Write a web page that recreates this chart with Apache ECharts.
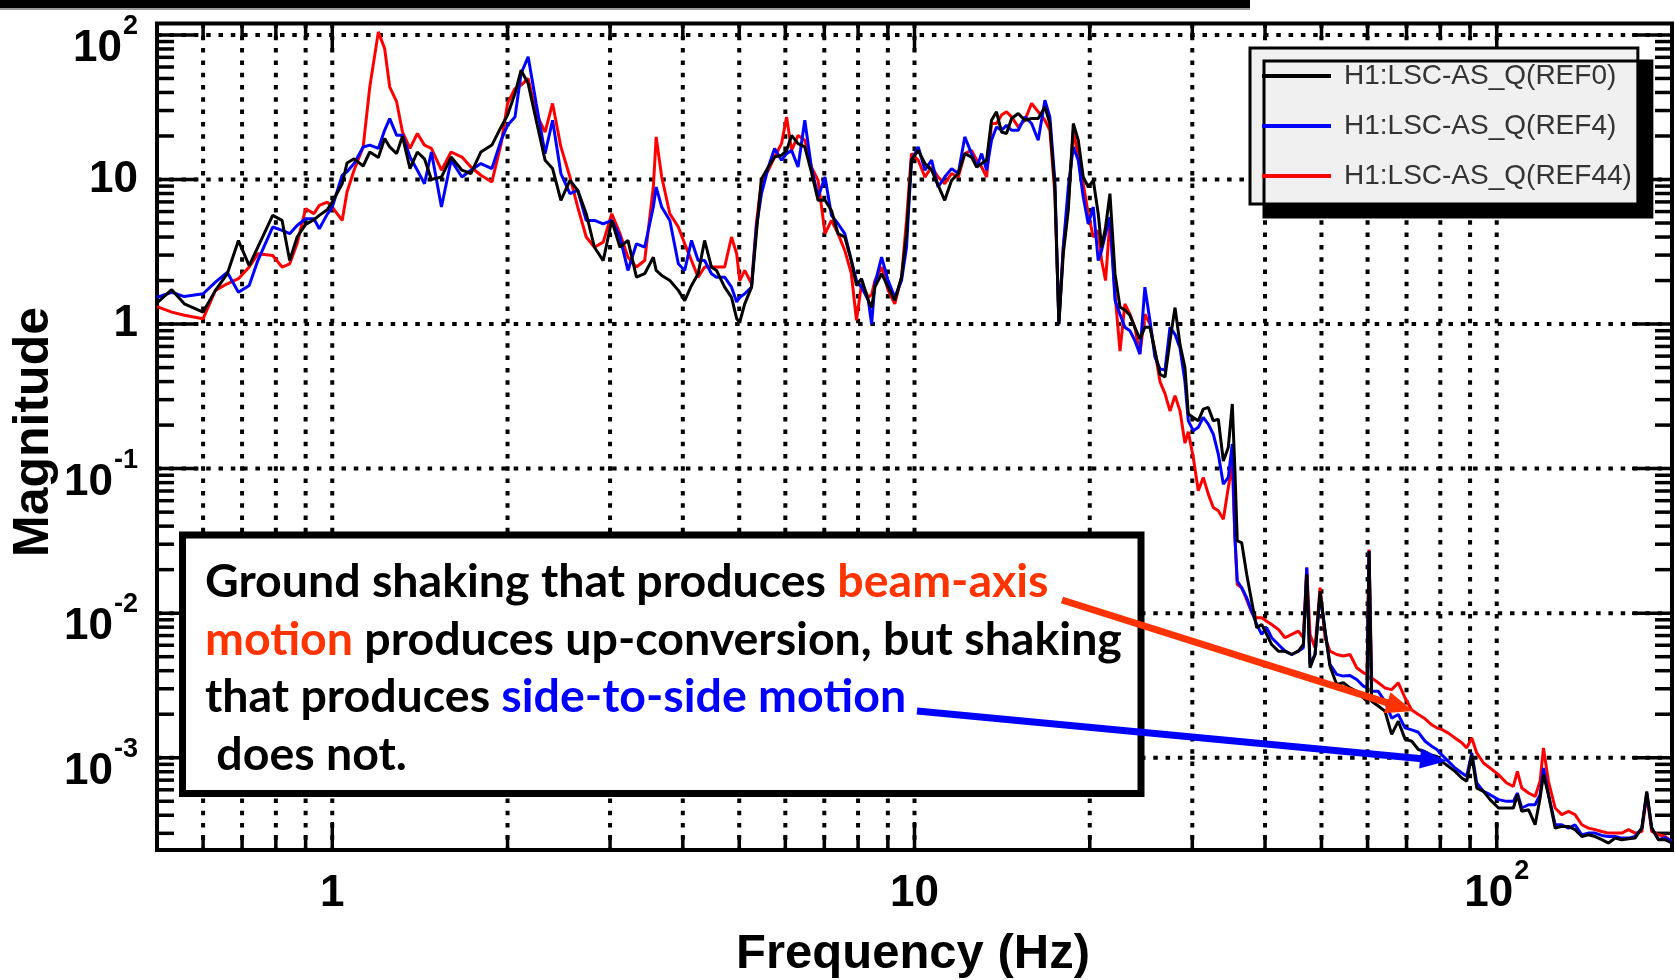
<!DOCTYPE html>
<html><head><meta charset="utf-8">
<script src="https://cdn.jsdelivr.net/npm/echarts@6/dist/echarts.min.js"></script>
<style>html,body{margin:0;padding:0;background:#fff}#c{width:1675px;height:980px}</style>
</head><body><div id="c"></div>
<script>
// ---------------- data ----------------
const freq = [
0.50,0.53,0.557,0.60,0.63,0.66,0.69,0.72,0.745,0.79,0.82,0.845,0.87,0.90,0.93,0.95,0.98,1.00,1.04,1.06,1.09,1.13,1.16,1.20,1.23,1.255,1.29,1.32,1.36,1.40,1.44,
1.48,1.54,1.60,1.67,1.73,1.80,1.88,1.95,2.00,2.06,2.11,2.17,2.24,2.32,2.39,2.47,2.56,2.64,2.73,2.82,2.92,3.02,3.12,3.22,3.33,3.44,3.56,3.60,3.68,3.80,3.93,4.03,4.14,4.25,4.36,4.48,
4.57,4.72,4.85,4.95,5.01,5.11,5.25,5.35,5.46,5.61,5.75,5.91,6.03,6.15,6.31,6.48,6.65,6.83,7.02,7.20,7.39,7.59,7.79,7.95,8.11,8.33,8.44,8.55,8.78,9.01,9.25,9.50,9.69,9.88,10.15,10.42,10.70,10.98,11.27,11.58,11.89,12.20,12.53,
12.79,13.04,13.30,13.56,13.83,14.11,14.39,14.68,15.07,15.47,15.89,16.31,16.75,17.08,17.42,17.70,18.01,18.37,18.74,19.11,19.49,19.88,20.28,20.68,20.96,21.29,21.66,22.10,22.54,22.98,23.44,23.90,24.38,24.87,25.37,25.88,26.40,26.93,27.47,28.02,28.58,29.14,
29.53,30.12,30.72,31.33,31.96,32.60,33.25,33.92,34.59,35.14,35.51,35.84,36.47,37.20,37.94,38.70,39.47,40.26,41.06,42.17,43.29,44.45,45.63,46.54,47.17,47.79,48.75,49.73,50.72,51.71,53.10,54.52,55.98,57.48,59.01,59.87,60.35,60.97,62.60,64.27,66.00,67.76,69.57,71.45,73.35,75.33,77.33,
78.9,80.4,82.6,84.8,87.1,88.8,90.6,92.4,94.9,97.4,100.7,104.0,106.8,108.5,110.4,113.4,116.4,118.7,120.3,122.7,126.0,129.3,132.8,136.3,140.0,143.7,147.6,151.5,155.6,159.7,164.0,168.4,172.8,177.5,181.0,184.6,189.6,194.6,199.8
];
const magREF0 = [
1.40,1.73,1.38,1.21,1.71,2.22,3.78,2.54,3.40,5.65,5.21,2.75,3.99,4.89,5.27,5.65,6.18,6.98,9.35,13.0,13.9,12.4,15.5,14.2,19.2,16.8,15.1,19.9,11.9,15.5,13.9,
10.0,10.4,14.3,11.6,11.0,15.5,17.3,23.1,27.9,39.3,57.0,46.1,25.7,13.6,11.9,7.18,9.87,8.41,5.80,3.40,2.75,5.21,3.40,3.79,2.11,2.23,2.90,2.35,2.17,2.00,1.71,1.45,1.85,2.23,3.79,2.48,
2.35,1.80,1.53,1.09,1.03,1.38,1.80,4.22,10.1,12.2,14.3,14.7,15.9,20.2,17.7,16.8,11.3,7.18,7.18,6.11,4.22,4.00,2.75,1.85,2.06,1.46,1.30,1.80,2.23,1.80,1.46,2.11,4.22,13.6,15.9,12.9,11.6,9.12,7.18,9.87,11.0,15.1,14.3,
12.2,12.9,13.6,25.7,29.4,21.3,20.8,26.4,28.6,25.7,26.4,26.4,31.8,24.4,8.87,1.00,3.06,6.11,24.4,18.7,10.4,8.87,9.87,5.80,3.40,4.69,7.98,2.23,1.31,1.25,1.15,0.95,0.79,0.95,0.95,0.65,0.45,0.43,0.77,1.30,0.72,0.50,
0.239,0.226,0.214,0.258,0.265,0.214,0.220,0.113,0.140,0.28,0.0966,0.0316,0.0308,0.0186,0.0121,0.00793,0.00836,0.00713,0.00607,0.00546,0.00546,0.00518,0.00546,0.00607,0.0186,0.00419,0.00518,0.0142,0.00752,0.0043,0.00321,0.0033,0.00304,0.00288,0.00259,0.00246,0.0269,0.00246,0.00228,0.00210,0.00145,0.00179,0.00135,0.0013,0.00114,0.0011,0.00104,
0.00102,0.000944,0.000872,0.000805,0.000724,0.000687,0.00105,0.000617,0.000585,0.000513,0.000449,0.000449,0.000449,0.000555,0.000426,0.000437,0.000344,0.000526,0.000764,0.000555,0.000326,0.000335,0.000335,0.000318,0.000285,0.000293,0.000285,0.000271,0.000257,0.000278,0.000271,0.000275,0.000278,0.000326,0.000585,0.000326,0.000271,0.000271,0.000257
];
const magREF4 = [
1.53,1.66,1.55,1.62,1.95,2.28,1.66,1.85,2.75,4.69,4.45,4.22,4.81,5.35,5.35,4.56,5.74,6.45,10.7,11.3,12.9,16.8,17.3,16.4,21.9,26.4,20.2,20.2,14.3,11.6,9.35,
15.5,6.45,13.6,10.4,11.6,12.9,11.9,18.7,23.7,27.1,54.1,70.6,33.6,15.1,25.7,11.0,7.98,8.41,5.21,5.21,4.94,5.21,4.00,2.35,3.59,3.40,6.45,8.87,6.45,5.21,2.61,2.35,3.79,2.75,2.75,2.23,
2.11,2.11,1.80,1.42,1.53,1.62,1.80,4.69,7.98,12.2,16.4,13.6,15.1,15.9,12.2,25.7,12.2,7.57,10.4,5.65,4.94,4.22,2.75,2.00,1.80,1.46,1.00,1.90,2.90,2.00,1.53,2.00,3.40,13.6,16.8,11.6,13.6,8.87,10.4,11.9,11.0,19.7,15.1,
12.2,15.1,11.6,18.7,23.1,21.9,23.7,21.9,21.9,27.1,24.4,18.7,35.4,27.1,9.87,1.00,3.40,8.87,16.8,13.6,7.57,4.94,6.45,2.75,3.23,4.22,5.50,1.46,1.17,0.95,0.90,0.77,0.62,1.80,1.06,0.59,0.49,0.48,0.95,0.85,0.68,0.40,
0.214,0.183,0.193,0.226,0.203,0.173,0.126,0.078,0.0869,0.148,0.0333,0.0167,0.0150,0.0128,0.0103,0.00836,0.00713,0.00793,0.00676,0.00607,0.00546,0.00518,0.00546,0.00576,0.0207,0.00442,0.00518,0.0135,0.00752,0.00442,0.00377,0.00367,0.0037,0.00348,0.00313,0.00304,0.0269,0.00288,0.00288,0.00246,0.00188,0.00199,0.00161,0.00156,0.0015,0.0013,0.0012,
0.00114,0.00105,0.000944,0.000849,0.000784,0.000744,0.00108,0.000669,0.000585,0.000555,0.000513,0.000499,0.000499,0.000570,0.000449,0.000473,0.000473,0.000555,0.000849,0.000555,0.000344,0.000344,0.000326,0.000344,0.000293,0.000301,0.000301,0.00029,0.000285,0.000285,0.000278,0.000278,0.000285,0.000326,0.000570,0.000326,0.000271,0.00028,0.000264
];
const magREF44 = [
1.32,1.21,1.15,1.09,1.71,1.90,2.06,2.48,3.06,2.98,2.48,2.61,3.59,6.28,5.81,6.62,6.98,6.45,5.21,8.19,11.6,16.8,43.8,105,80.7,43.8,34.4,21.3,16.4,20.8,17.3,
16.4,11.6,15.5,14.3,12.2,10.7,9.61,17.7,33.6,42.6,45.0,50.0,28.6,21.3,33.6,16.8,10.4,6.45,4.00,3.40,3.69,5.80,4.22,2.90,2.48,2.75,8.87,19.7,10.4,5.80,4.69,3.59,2.75,2.11,2.48,2.48,
2.48,2.48,4.00,3.06,2.00,2.35,1.90,4.94,9.87,11.6,14.3,17.7,27.1,15.9,20.2,18.7,12.2,9.87,4.22,5.21,4.22,3.23,2.23,1.06,1.90,1.53,1.60,2.00,2.48,1.71,1.38,2.11,5.21,15.1,13.6,10.4,12.2,10.4,9.35,11.0,10.4,15.1,15.9,
13.6,12.2,10.4,24.4,24.4,27.9,29.4,27.1,23.1,25.7,33.6,29.4,25.7,21.9,7.98,1.06,3.40,6.79,21.9,14.3,9.35,5.80,4.00,4.45,2.75,2.00,5.21,1.62,0.65,1.38,1.17,0.95,0.62,1.17,1.00,0.65,0.40,0.33,0.25,0.32,0.25,0.15,
0.18,0.119,0.0702,0.0869,0.0666,0.0538,0.0511,0.0447,0.074,0.107,0.0333,0.0158,0.0150,0.0124,0.0101,0.00929,0.00929,0.00881,0.00836,0.00772,0.00676,0.00713,0.00752,0.00676,0.0207,0.00713,0.00576,0.0150,0.00676,0.00546,0.00518,0.00505,0.00518,0.00419,0.00387,0.00377,0.0276,0.00357,0.0033,0.00304,0.00296,0.0033,0.0026,0.00214,0.00199,0.00186,0.00169,
0.00161,0.00157,0.00148,0.00137,0.00127,0.00117,0.00137,0.00108,0.00092,0.000849,0.000764,0.000669,0.000634,0.000805,0.000617,0.000570,0.00054,0.000687,0.00117,0.000687,0.000449,0.000404,0.000426,0.000404,0.000344,0.000326,0.000318,0.000309,0.000301,0.000301,0.000301,0.000318,0.000301,0.000309,0.000555,0.000309,0.000293,0.000285,0.000264
];
const seriesNames = ['H1:LSC-AS_Q(REF0)', 'H1:LSC-AS_Q(REF4)', 'H1:LSC-AS_Q(REF44)'];
const seriesColors = ['#000000', '#0000ff', '#ff0000'];

const xRange = [0.5, 200];
const yRange = [2.3e-4, 120];
const xTickValues = [1, 10, 100];
const xTickLabels = ['1', '10', '10^2'];
const yTickValues = [1e-3, 1e-2, 1e-1, 1, 10, 100];
const yTickLabels = ['10^-3', '10^-2', '10^-1', '1', '10', '10^2'];
const xMinorTicks = [0.6,0.7,0.8,0.9,2,3,4,5,6,7,8,9,20,30,40,50,60,70,80,90];
const yMinorTicks = [3e-4,4e-4,5e-4,6e-4,7e-4,8e-4,9e-4,
  2e-3,3e-3,4e-3,5e-3,6e-3,7e-3,8e-3,9e-3,
  0.02,0.03,0.04,0.05,0.06,0.07,0.08,0.09,
  0.2,0.3,0.4,0.5,0.6,0.7,0.8,0.9,
  2,3,4,5,6,7,8,9,
  20,30,40,50,60,70,80,90];

const xTitle = 'Frequency (Hz)';
const yTitle = 'Magnitude';
const noteLines = [
  [['k', 'Ground shaking that produces '], ['r', 'beam-axis']],
  [['r', 'motion'], ['k', ' produces up-conversion, but shaking']],
  [['k', 'that produces '], ['b', 'side-to-side motion']],
  [['k', ' does not.']]
];

// ---------------- helpers ----------------
const isSame = (a, b) => Math.abs(Math.log10(a) - Math.log10(b)) < 1e-6;
function toRich(lbl, padAll) {
  if (lbl.indexOf('^') >= 0) {
    const p = lbl.split('^');
    return '{bs|' + p[0] + '}{s|' + p[1] + '}';
  }
  return padAll ? '{bs|' + lbl + '}' : '{b|' + lbl + '}';
}
function makeFormatter(vals, labels, padAll) {
  return function (v) {
    v = Number(v);
    for (let i = 0; i < vals.length; i++) if (isSame(v, vals[i])) return toRich(labels[i], padAll);
    return '';
  };
}
const LABEL_FONT = 'Liberation Sans';
function richSet(fs, sfs, pad) {
  return {
    b: { fontSize: fs, lineHeight: fs, fontWeight: 'bold', fontFamily: LABEL_FONT, color: '#000' },
    bs: { fontSize: fs, lineHeight: fs, fontWeight: 'bold', fontFamily: LABEL_FONT, color: '#000', padding: [pad, 0, pad, 0], verticalAlign: 'top' },
    s: { fontSize: sfs, lineHeight: sfs, fontWeight: 'bold', fontFamily: LABEL_FONT, color: '#000', verticalAlign: 'top', padding: [0, 0, 0, 1] }
  };
}

// decoration items: [x, y, isMajor]
const vItems = xTickValues.map(v => [v, 1, 1]).concat(xMinorTicks.map(v => [v, 1, 0]));
const hItems = yTickValues.map(v => [1, v, 1]).concat(yMinorTicks.map(v => [1, v, 0]));
const DOT = { stroke: '#000', lineWidth: 4, lineDash: [4.5, 7.8] };
const TICK = { stroke: '#000', lineWidth: 3.5 };

function renderV(params, api) {
  const cs = params.coordSys;
  const x = api.coord([api.value(0), 1])[0];
  const L = api.value(2) === 1 ? 28 : 15;
  const top = cs.y, bot = cs.y + cs.height;
  return { type: 'group', children: [
    { type: 'line', shape: { x1: x, y1: top, x2: x, y2: bot }, style: DOT },
    { type: 'line', shape: { x1: x, y1: top, x2: x, y2: top + L }, style: TICK },
    { type: 'line', shape: { x1: x, y1: bot, x2: x, y2: bot - L }, style: TICK }
  ]};
}
function renderH(params, api) {
  const cs = params.coordSys;
  const y = api.coord([1, api.value(1)])[1];
  const major = api.value(2) === 1;
  const L = major ? 40 : 17;
  const l = cs.x, r = cs.x + cs.width;
  const ch = [
    { type: 'line', shape: { x1: l, y1: y, x2: l + L, y2: y }, style: TICK },
    { type: 'line', shape: { x1: r, y1: y, x2: r - L, y2: y }, style: TICK }
  ];
  if (major) ch.unshift({ type: 'line', shape: { x1: l, y1: y, x2: r, y2: y }, style: DOT });
  return { type: 'group', children: ch };
}

function arrow(x1, y1, x2, y2, color, w, hl, hw) {
  const dx = x2 - x1, dy = y2 - y1, len = Math.hypot(dx, dy);
  const ux = dx / len, uy = dy / len, nx = -uy, ny = ux;
  const bx = x2 - hl * ux, by = y2 - hl * uy;
  return [
    { type: 'line', z: 120, shape: { x1: x1, y1: y1, x2: bx + ux * 2, y2: by + uy * 2 }, style: { stroke: color, lineWidth: w } },
    { type: 'polygon', z: 121, shape: { points: [[x2, y2], [bx + nx * hw, by + ny * hw], [bx - nx * hw, by - ny * hw]] }, style: { fill: color } }
  ];
}

// ---------------- chart ----------------
const chart = echarts.init(document.getElementById('c'), null, { renderer: 'canvas' });
const NOTE_FS = 46.5;
const noteRich = {
  k: { fill: '#000', color: '#000', fontSize: NOTE_FS, fontWeight: 'bold', fontFamily: 'Lato' },
  r: { fill: '#ff3300', color: '#ff3300', fontSize: NOTE_FS, fontWeight: 'bold', fontFamily: 'Lato' },
  b: { fill: '#0000ff', color: '#0000ff', fontSize: NOTE_FS, fontWeight: 'bold', fontFamily: 'Lato' }
};
const noteY = [582, 640, 697, 755];
const noteEls = noteLines.map((ln, i) => ({
  type: 'text', x: 205, y: noteY[i], z: 110,
  style: {
    text: ln.map(t => '{' + t[0] + '|' + t[1] + '}').join(''),
    rich: noteRich, verticalAlign: 'middle', align: 'left',
    fontSize: NOTE_FS, fontWeight: 'bold', fontFamily: 'Lato', fill: '#000'
  }
}));

const lineSeries = [2, 1, 0].map(i => ({
  name: seriesNames[i], type: 'line', xAxisIndex: 0, yAxisIndex: 0,
  data: freq.map((f, k) => [f, [magREF0, magREF4, magREF44][i][k]]),
  showSymbol: false, symbol: 'none', z: 10 + (2 - i),
  lineStyle: { color: seriesColors[i], width: 3 },
  itemStyle: { color: seriesColors[i] }
}));

chart.setOption({
  animation: false,
  backgroundColor: '#fff',
  grid: { left: 157, right: 3, top: 23.5, bottom: 130, show: true, borderColor: '#000', borderWidth: 4, backgroundColor: '#fff' },
  xAxis: [{
    type: 'log', logBase: 10, min: xRange[0], max: xRange[1],
    axisLine: { show: false }, axisTick: { show: false }, splitLine: { show: false },
    axisLabel: { formatter: makeFormatter(xTickValues, xTickLabels, true), margin: 8, rich: richSet(44, 27, 14) }
  }],
  yAxis: [{
    type: 'log', logBase: 10, min: yRange[0], max: yRange[1],
    axisLine: { show: false }, axisTick: { show: false }, splitLine: { show: false },
    axisLabel: { formatter: makeFormatter(yTickValues, yTickLabels, false), margin: 19, rich: richSet(44, 27, 14) }
  }],
  legend: {
    data: seriesNames, orient: 'vertical', left: 1250, top: 48,
    backgroundColor: '#f0f0f0', borderColor: '#000', borderWidth: 3,
    shadowColor: '#000', shadowBlur: 0, shadowOffsetX: 14, shadowOffsetY: 13,
    padding: [14, 6, 14, 12], itemGap: 22, itemWidth: 69, itemHeight: 4, icon: 'rect',
    selectedMode: false,
    textStyle: { fontFamily: 'Liberation Sans', fontSize: 28, color: '#333', padding: [0, 0, 0, 8] }
  },
  series: [
    { type: 'custom', name: 'vgrid', renderItem: renderV, data: vItems, encode: { x: 0, y: 1 }, clip: false, silent: true, z: 1 },
    { type: 'custom', name: 'hgrid', renderItem: renderH, data: hItems, encode: { x: 0, y: 1 }, clip: false, silent: true, z: 1 }
  ].concat(lineSeries),
  graphic: [
    { type: 'rect', z: 100, shape: { x: 0, y: 0, width: 1250, height: 8 }, style: { fill: '#000' } },
    { type: 'rect', z: 100, shape: { x: 0, y: 8, width: 1250, height: 2 }, style: { fill: '#999' } },
    { type: 'text', z: 100, x: 34, y: 432, rotation: Math.PI / 2,
      style: { text: yTitle, fontSize: 50, fontWeight: 'bold', fontFamily: LABEL_FONT, fill: '#000', align: 'center', verticalAlign: 'middle' } },
    { type: 'text', z: 100, x: 913, y: 954,
      style: { text: xTitle, fontSize: 49, fontWeight: 'bold', fontFamily: LABEL_FONT, fill: '#000', align: 'center', verticalAlign: 'middle' } },
    { type: 'rect', z: 105, shape: { x: 182.5, y: 535, width: 958.5, height: 258.5 }, style: { fill: '#fff', stroke: '#000', lineWidth: 7 } }
  ].concat(noteEls)
   .concat(arrow(1062, 600, 1413, 711, '#ff3300', 7, 27, 11))
   .concat(arrow(917, 711, 1447, 761, '#0000ff', 7, 27, 10))
});
</script>
</body></html>
